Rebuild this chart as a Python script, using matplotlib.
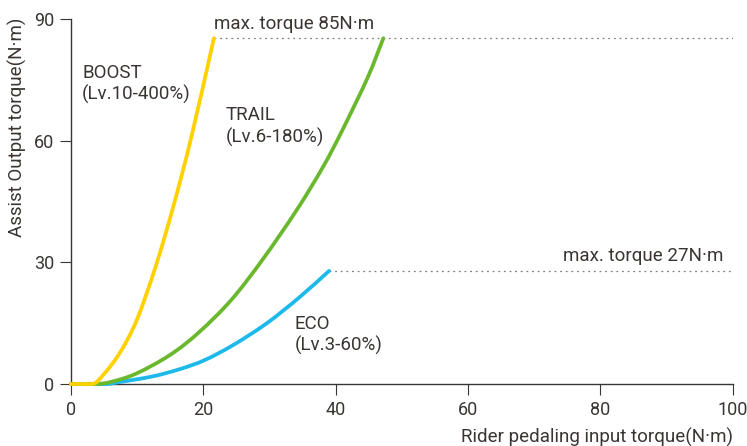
import numpy as np
import matplotlib.pyplot as plt
from matplotlib.path import Path
from matplotlib.patches import PathPatch

plt.rcParams['font.family'] = ['Roboto', 'DejaVu Sans']

# values
boost_x = [0, 3.1, 5.0, 7.5, 10.0, 12.8, 15.5, 18.2, 21.6]
boost_y = [0, 0, 2.5, 8.0, 16.0, 29.0, 44.0, 61.0, 85.3]

trail_x = [0, 3.5, 6.0, 9.9, 15.0, 19.3, 24.2, 29.0, 34.1, 38.1, 41.0, 44.8, 47.2]
trail_y = [0, 0, 0.5, 2.6, 7.2, 12.7, 20.7, 30.8, 42.9, 53.6, 62.6, 75.5, 85.3]

eco_x = [0, 5.0, 7.4, 12.4, 16.5, 20.2, 24.5, 29.6, 34.6, 39.0]
eco_y = [0, 0, 0.5, 1.9, 3.7, 5.9, 9.6, 15.0, 21.5, 27.9]

max_torque = [85, 27]
xticks = [0, 20, 40, 60, 80, 100]
yticks = [0, 30, 60, 90]

dark = '#3a3533'


def smooth_path(xs, ys):
    # draw a smooth curve through the read points (cubic bezier segments)
    p = np.column_stack([xs, ys]).astype(float)
    n = len(p)
    m = np.zeros_like(p)
    for i in range(n):
        if i == 0:
            m[i] = p[1] - p[0]
        elif i == n - 1:
            m[i] = p[-1] - p[-2]
        else:
            m[i] = (p[i + 1] - p[i - 1]) / 2
            if ys[i - 1] == ys[i]:
                m[i][1] = 0
    verts = [p[0]]
    codes = [Path.MOVETO]
    for i in range(n - 1):
        verts += [p[i] + m[i] / 3, p[i + 1] - m[i + 1] / 3, p[i + 1]]
        codes += [Path.CURVE4] * 3
    return Path(verts, codes)


fig = plt.figure(figsize=(7.47, 4.46), dpi=100)
ax = fig.add_axes([0.095, 0.139, 0.886, 0.818])

for xs, ys, c in [(eco_x, eco_y, '#1cb9ea'), (trail_x, trail_y, '#6ab82e'),
                  (boost_x, boost_y, '#ffd100')]:
    ax.add_patch(PathPatch(smooth_path(xs, ys), fill=False, edgecolor=c, lw=2.7,
                           capstyle='round', zorder=3, clip_on=False))

ax.hlines(boost_y[-1], boost_x[-1], 100, colors='#808080', linestyles=(0, (1.5, 3)), lw=0.9)
ax.hlines(eco_y[-1], eco_x[-1], 100, colors='#808080', linestyles=(0, (1.5, 3)), lw=0.9)

ax.text(boost_x[-1], 86.6, f'max. torque {max_torque[0]}N·m', fontsize=13.5, color=dark, va='bottom')
ax.text(98.6, 29.3, f'max. torque {max_torque[1]}N·m', fontsize=13.5, color=dark, va='bottom', ha='right')

ax.text(1.7, 79, 'BOOST\n(Lv.10-400%)', fontsize=13.5, color=dark, va='top', linespacing=1.2)
ax.text(23.4, 68.5, 'TRAIL\n(Lv.6-180%)', fontsize=13.5, color=dark, va='top', linespacing=1.2)
ax.text(33.8, 17, 'ECO\n(Lv.3-60%)', fontsize=13.5, color=dark, va='top', linespacing=1.2)

ax.set_xlim(0, 100)
ax.set_ylim(0, 90)
ax.set_xticks(xticks)
ax.set_yticks(yticks)
ax.spines['top'].set_visible(False)
ax.spines['right'].set_visible(False)
for s in ['left', 'bottom']:
    ax.spines[s].set_color(dark)
    ax.spines[s].set_linewidth(1.0)
ax.tick_params(direction='out', length=8, width=0.8, color=dark, labelcolor=dark, labelsize=13, pad=4)

ax.set_xlabel('Rider pedaling input torque(N·m)', fontsize=13.5, color=dark, loc='right')
ax.xaxis.set_label_coords(1.0, -0.12)
ax.set_ylabel('Assist Output torque(N·m)', fontsize=13.5, color=dark)
ax.yaxis.set_label_coords(-0.066, 0.703)

fig.savefig('out.png', dpi=100)
